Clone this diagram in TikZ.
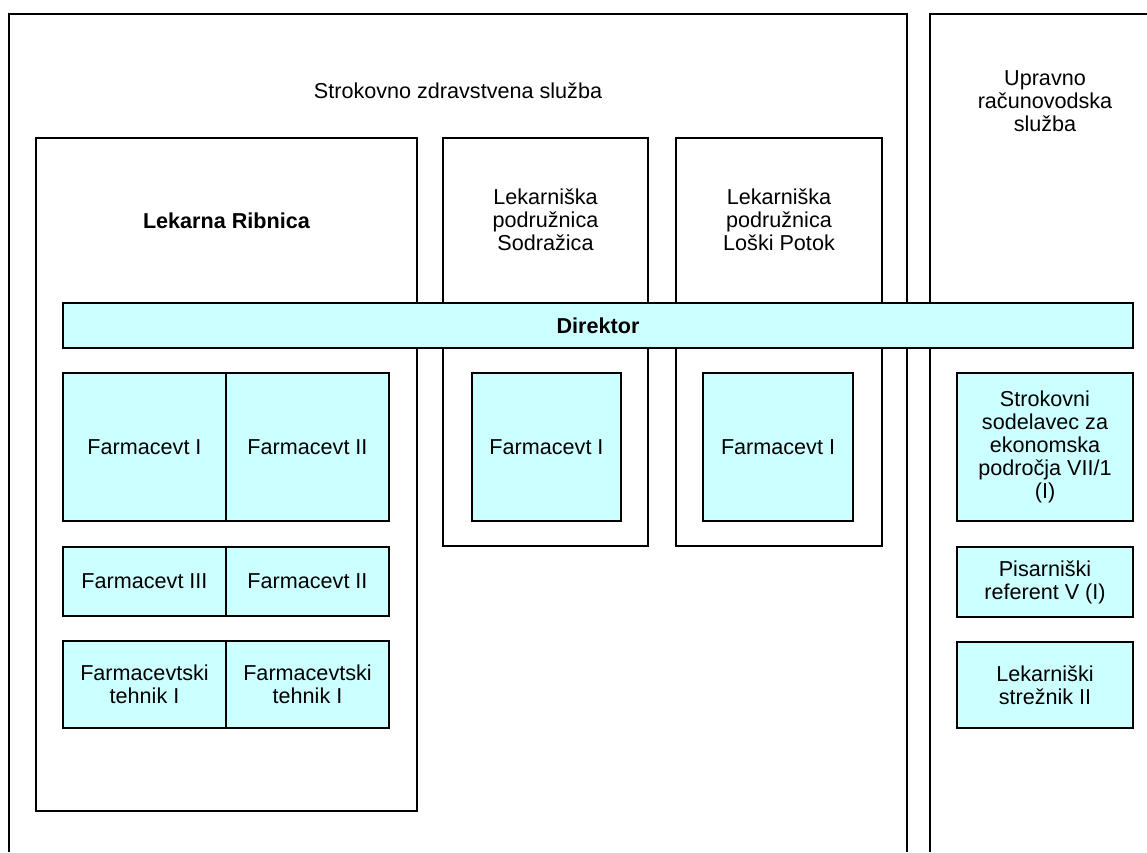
\documentclass[tikz,border=0pt]{standalone}
\usepackage{fontspec}
\setmainfont{Liberation Sans}
\definecolor{boxfill}{HTML}{CCFFFF}
\begin{document}
\begin{tikzpicture}[x=1pt,y=-1pt,
  every node/.style={font=\fontsize{21.6}{23}\selectfont, align=center},
  frame/.style={draw=black, line width=1.8pt},
  unit/.style={draw=black, line width=1.8pt, fill=white, inner sep=0pt},
  post/.style={draw=black, line width=1.4pt, fill=boxfill, inner sep=2pt},
  label/.style={inner sep=0pt}]
\useasboundingbox (0,0) rectangle (1147,852);
% service frames (open at the bottom)
\draw[frame] (9,852) -- (9,14) -- (907,14) -- (907,852);
\draw[frame] (930,852) -- (930,14) -- (1150,14);
\node[label] (szs) at (458,91) {Strokovno zdravstvena služba};
\node[label] (urs) at (1045,101) {Upravno\\računovodska\\služba};
% units
\node[unit, minimum width=381, minimum height=673] (rib) at (226.5,474.5) {};
\node[unit, minimum width=205, minimum height=408] (sod) at (545.5,342) {};
\node[unit, minimum width=206, minimum height=408] (lp) at (779,342) {};
\node[label] (ribt) at (226.5,221) {\textbf{Lekarna Ribnica}};
\node[label] (sodt) at (545.5,220) {Lekarniška\\podružnica\\Sodražica};
\node[label] (lpt) at (779,220) {Lekarniška\\podružnica\\Loški Potok};
% director
\node[post, minimum width=1070, minimum height=45] (dir) at (598,325.5) {\textbf{Direktor}};
% Ribnica posts
\node[post, minimum width=163, minimum height=148] (f1) at (144.5,447) {Farmacevt I};
\node[post, minimum width=163, minimum height=148] (f2) at (307.5,447) {Farmacevt II};
\node[post, minimum width=163, minimum height=69] (f3) at (144.5,581.5) {Farmacevt III};
\node[post, minimum width=163, minimum height=69] (f4) at (307.5,581.5) {Farmacevt II};
\node[post, minimum width=163, minimum height=87] (t1) at (144.5,684.5) {Farmacevtski\\tehnik I};
\node[post, minimum width=163, minimum height=87] (t2) at (307.5,684.5) {Farmacevtski\\tehnik I};
% branch posts
\node[post, minimum width=149, minimum height=148] (s1) at (546.5,447) {Farmacevt I};
\node[post, minimum width=150, minimum height=148] (l1) at (778,447) {Farmacevt I};
% administration posts
\node[post, minimum width=176, minimum height=148] (r1) at (1045,447) {Strokovni\\sodelavec za\\ekonomska\\področja VII/1\\(I)};
\node[post, minimum width=176, minimum height=70] (r2) at (1045,582) {Pisarniški\\referent V (I)};
\node[post, minimum width=176, minimum height=86] (r3) at (1045,685) {Lekarniški\\strežnik II};
\end{tikzpicture}
\end{document}
